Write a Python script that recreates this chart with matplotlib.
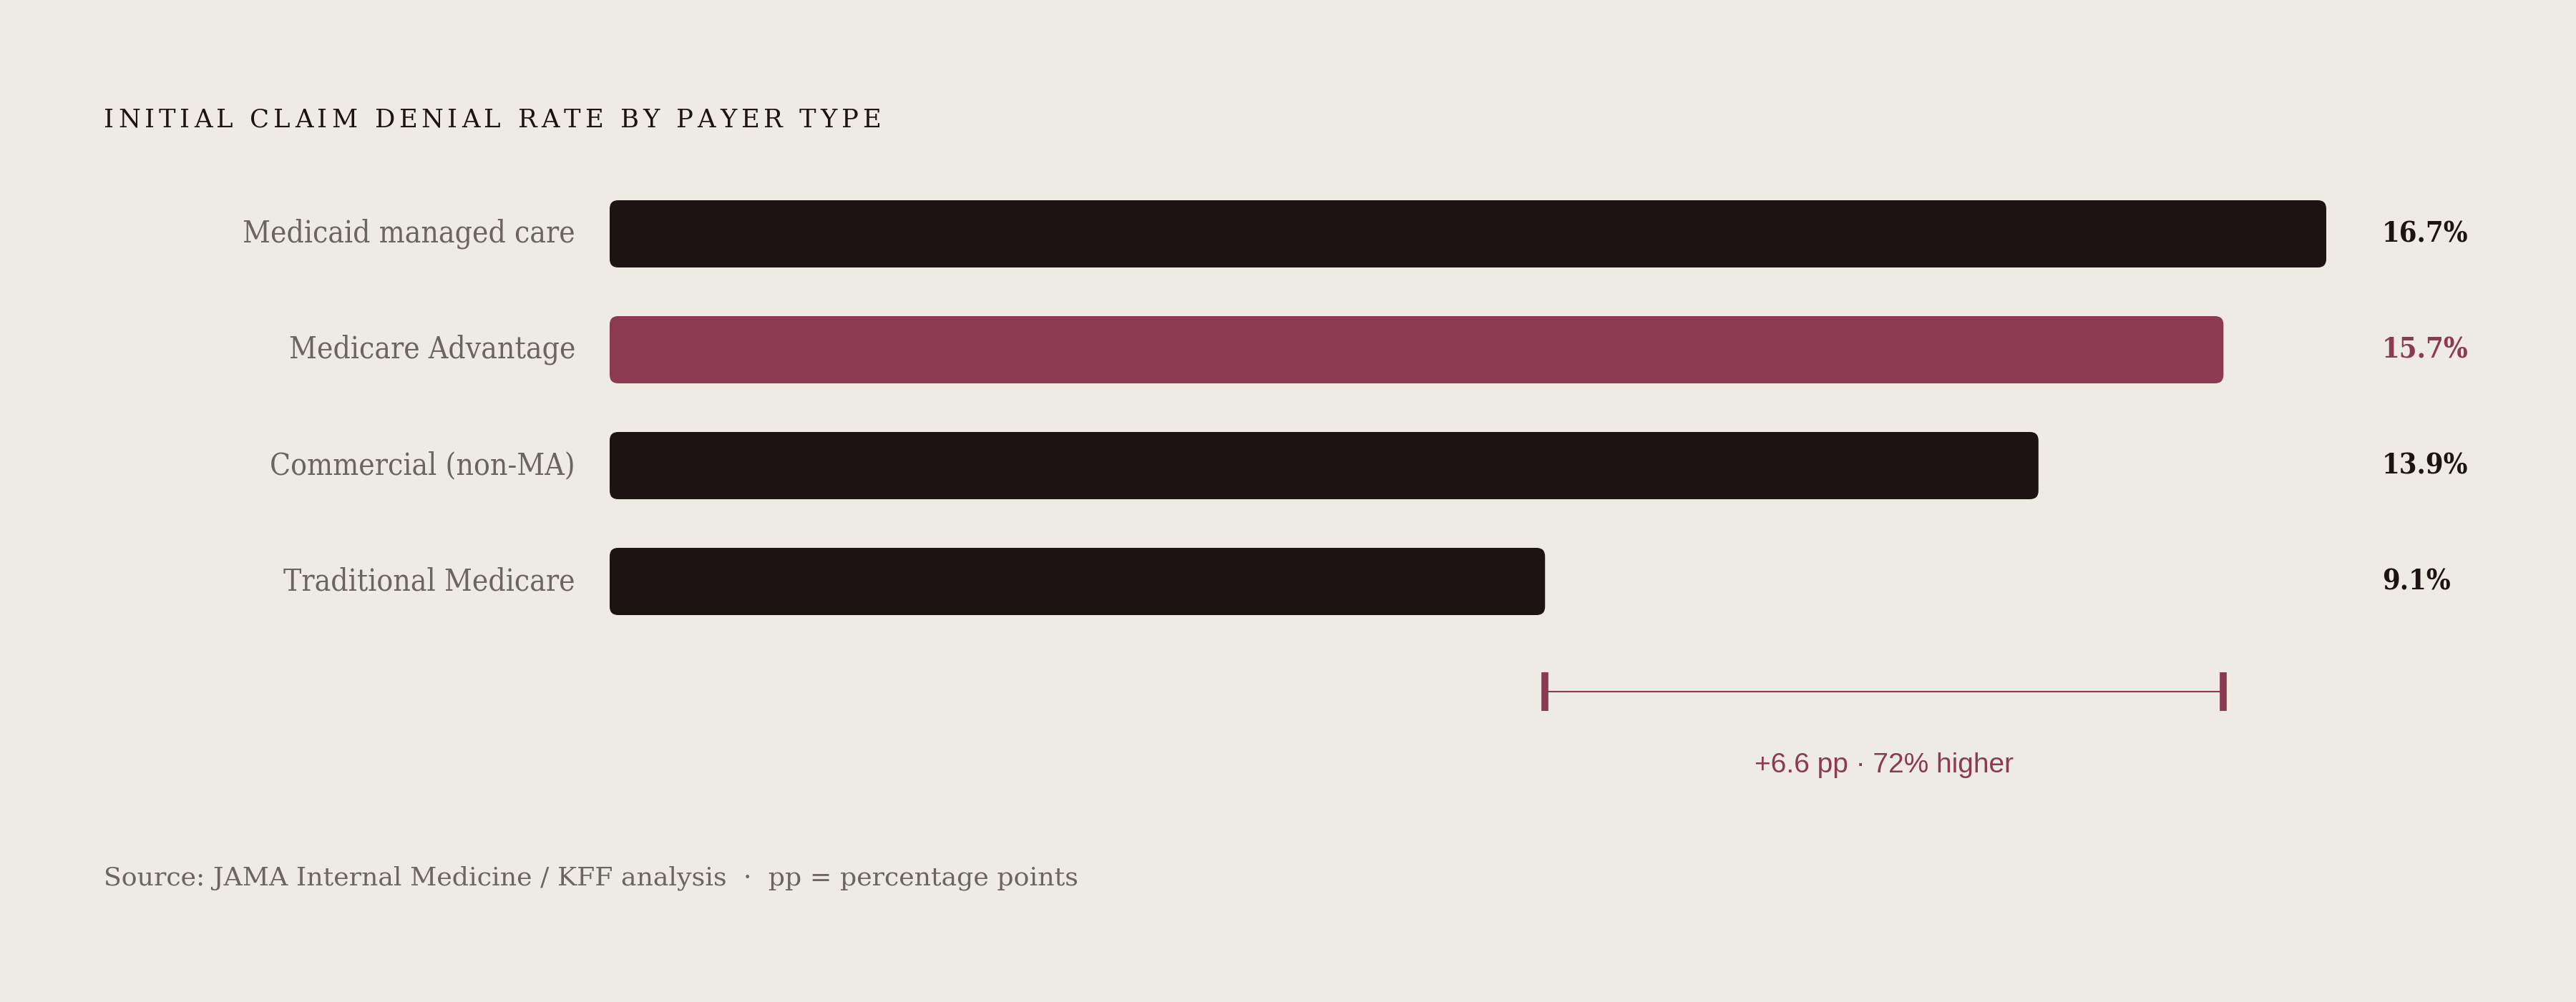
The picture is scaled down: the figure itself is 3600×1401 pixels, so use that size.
import matplotlib
matplotlib.use("Agg")
import matplotlib.pyplot as plt
from matplotlib.patches import FancyBboxPatch

# ---- data ----
categories = ["Medicaid managed care", "Medicare Advantage",
              "Commercial (non-MA)", "Traditional Medicare"]
rates = [16.7, 15.7, 13.9, 9.1]
value_labels = ["16.7%", "15.7%", "13.9%", "9.1%"]
highlight = "Medicare Advantage"
gap_low = "Traditional Medicare"
gap_high = "Medicare Advantage"
gap_text = "+6.6 pp \u00b7 72% higher"
title = "INITIAL CLAIM DENIAL RATE BY PAYER TYPE"
source = "Source: JAMA Internal Medicine / KFF analysis  \u00b7  pp = percentage points"

# ---- style ----
BG = "#EEEBE5"
DARK = "#1C1412"
ACCENT = "#8B3A52"
GREY = "#6B6560"
SERIF = ["DejaVu Serif"]

W, H = 3600, 1401
x_zero, x_max = 852, 3251      # pixel span of the value axis
row_px, row0 = 162, 327        # row spacing and first row centre (px from top)

fig = plt.figure(figsize=(W / 100, H / 100), dpi=100, facecolor=BG)
ax = fig.add_axes([x_zero / W, 0, (x_max - x_zero) / W, 1])
ax.set_facecolor(BG)
ax.set_xlim(0, max(rates))
ax.set_ylim((H - row0) / row_px, -row0 / row_px)
ax.axis("off")

px_x = max(rates) / (x_max - x_zero)   # data units per pixel
px_y = 1 / row_px
aspect = px_y / px_x

# ---- bars (rounded) ----
ypos = list(range(len(categories)))
bars = ax.barh(ypos, rates, height=94 / row_px)
for bar, cat in zip(bars, categories):
    x, y = bar.get_x(), bar.get_y()
    w, h = bar.get_width(), bar.get_height()
    bar.remove()
    color = ACCENT if cat == highlight else DARK
    ax.add_patch(FancyBboxPatch((x, y), w, h,
                                boxstyle=f"round,pad=0,rounding_size={12 * px_x}",
                                mutation_aspect=aspect, fc=color, ec="none"))

for yy, cat, lab in zip(ypos, categories, value_labels):
    ax.text(-48 * px_x, yy, cat, ha="right", va="center", fontsize=30.5,
            family=SERIF, stretch="condensed", color=GREY, clip_on=False)
    ax.text(max(rates) + 78 * px_x, yy, lab, ha="left", va="center",
            fontsize=28.5, family=SERIF, stretch="condensed", weight="bold",
            color=ACCENT if cat == highlight else DARK, clip_on=False)

# ---- gap bracket ----
lo = rates[categories.index(gap_low)]
hi = rates[categories.index(gap_high)]
by = ypos[-1] + 154 * px_y
cap = 27 * px_y
ax.plot([lo, hi], [by, by], color=ACCENT, lw=1.5, clip_on=False)
for xx in (lo, hi):
    ax.plot([xx, xx], [by - cap, by + cap], color=ACCENT, lw=7,
            solid_capstyle="butt", clip_on=False)
ax.text((lo + hi) / 2, by + 103 * px_y, gap_text, ha="center", va="center",
        fontsize=28, family=["Liberation Sans"], color=ACCENT, clip_on=False)

# ---- title with letter spacing ----
renderer = fig.canvas.get_renderer()
tx = 145
tracking = 5.8
for ch in title:
    t = fig.text(tx / W, 1 - 168 / H, ch, fontsize=25.5, family=SERIF,
                 color=DARK, va="center", ha="left")
    if ch == " ":
        tx += 12 + tracking
    else:
        tx += t.get_window_extent(renderer).width + tracking

fig.text(145 / W, 1 - 1228 / H, source, fontsize=26.2, family=SERIF,
         color=GREY, va="center", ha="left")

fig.savefig("out.png", dpi=100, facecolor=BG)
